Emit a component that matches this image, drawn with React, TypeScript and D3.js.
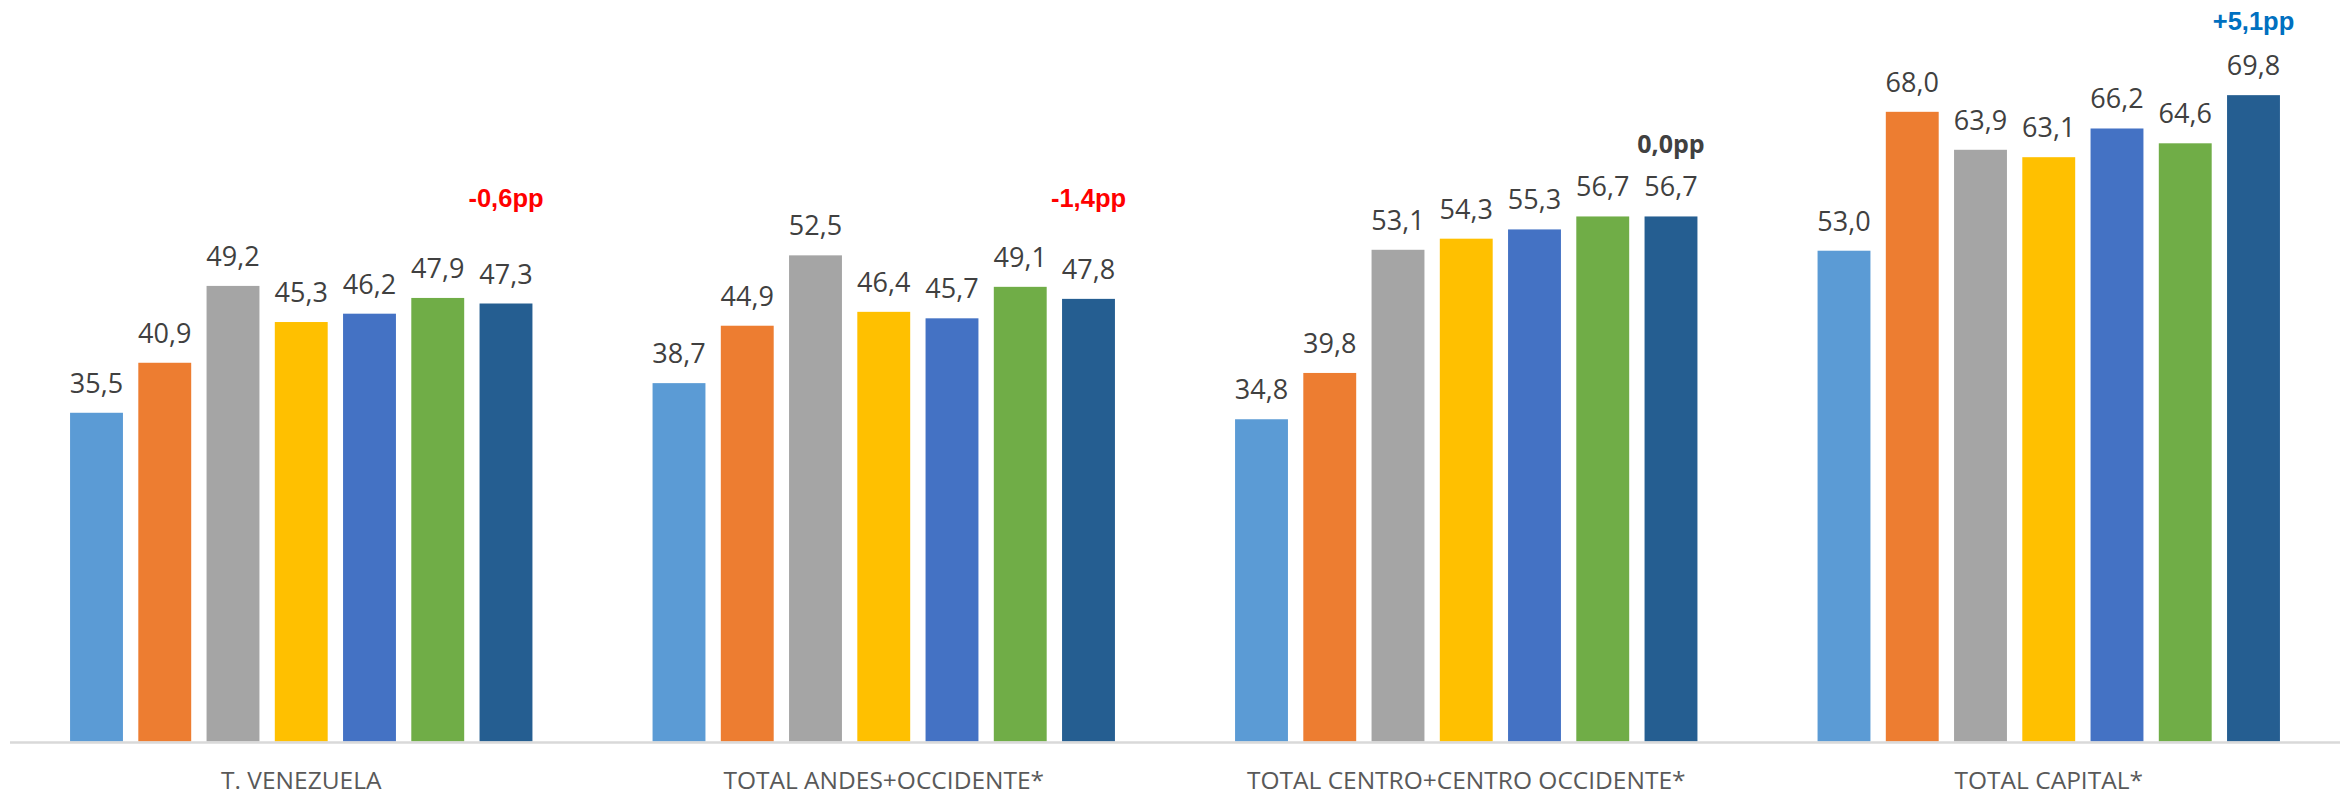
import React from "react";
import * as d3 from "d3";

const categories = [
  "T. VENEZUELA",
  "TOTAL ANDES+OCCIDENTE*",
  "TOTAL CENTRO+CENTRO OCCIDENTE*",
  "TOTAL CAPITAL*",
];
const seriesKeys = ["s1", "s2", "s3", "s4", "s5", "s6", "s7"];
const seriesColors = ["#5B9BD5", "#ED7D31", "#A5A5A5", "#FFC000", "#4472C4", "#70AD47", "#255E91"];
const valuesVenezuela = [35.5, 40.9, 49.2, 45.3, 46.2, 47.9, 47.3];
const valuesAndes = [38.7, 44.9, 52.5, 46.4, 45.7, 49.1, 47.8];
const valuesCentro = [34.8, 39.8, 53.1, 54.3, 55.3, 56.7, 56.7];
const valuesCapital = [53.0, 68.0, 63.9, 63.1, 66.2, 64.6, 69.8];
const groupValues = [valuesVenezuela, valuesAndes, valuesCentro, valuesCapital];
const annotations = ["-0,6pp", "-1,4pp", "0,0pp", "+5,1pp"];
const annotationLevels = [57.7, 57.7, 63.6, 76.8];
const annotationColors = ["#FF0000", "#FF0000", "#404040", "#0070C0"];
const yDomain = [0, 80];

const W = 2346;
const H = 795;

const fmt = (v: number) => d3.format(".1f")(v).replace(".", ",");

export default function App() {
  const x0 = d3.scaleBand<string>().domain(categories).range([10, 2340]).padding(0);
  const x1 = d3
    .scaleBand<string>()
    .domain(seriesKeys)
    .range([0, x0.bandwidth()])
    .paddingInner(0.225)
    .paddingOuter(0.88);
  const y = d3.scaleLinear().domain(yDomain).range([741.5, 0.7]);

  return (
    <div style={{ position: "fixed", left: 0, top: 0, width: W, height: H, background: "#fff" }}>
      <svg width={W} height={H} style={{ display: "block" }}>
        <rect x={0} y={0} width={W} height={H} fill="#ffffff" />
        {categories.map((cat, gi) => {
          const gx = x0(cat)!;
          const vals = groupValues[gi];
          return (
            <g key={cat} transform={`translate(${gx},0)`}>
              {seriesKeys.map((k, si) => {
                const v = vals[si];
                const bx = x1(k)!;
                return (
                  <g key={k}>
                    <rect
                      x={bx}
                      y={y(v)}
                      width={x1.bandwidth()}
                      height={y(0) - y(v)}
                      fill={seriesColors[si]}
                    />
                    <text
                      x={bx + x1.bandwidth() / 2}
                      y={y(v) - 20}
                      textAnchor="middle"
                      fontFamily="'Open Sans', sans-serif"
                      fontSize={27}
                      fill="#404040"
                    >
                      {fmt(v)}
                    </text>
                  </g>
                );
              })}
              <text
                x={x1(seriesKeys[6])! + x1.bandwidth() / 2}
                y={y(annotationLevels[gi])}
                textAnchor="middle"
                fontFamily={gi === 2 ? "'Open Sans', sans-serif" : "'Liberation Sans', Arial, sans-serif"}
                fontWeight="bold"
                fontSize={gi === 2 ? 25 : 25.5}
                fill={annotationColors[gi]}
              >
                {annotations[gi]}
              </text>
              <text
                x={x0.bandwidth() / 2}
                y={789}
                textAnchor="middle"
                fontFamily="'Open Sans', sans-serif"
                fontSize={24.5}
                fill="#595959"
              >
                {cat}
              </text>
            </g>
          );
        })}
        <line x1={10} x2={2340} y1={y(0) + 1} y2={y(0) + 1} stroke="#D9D9D9" strokeWidth={2.5} />
      </svg>
    </div>
  );
}
